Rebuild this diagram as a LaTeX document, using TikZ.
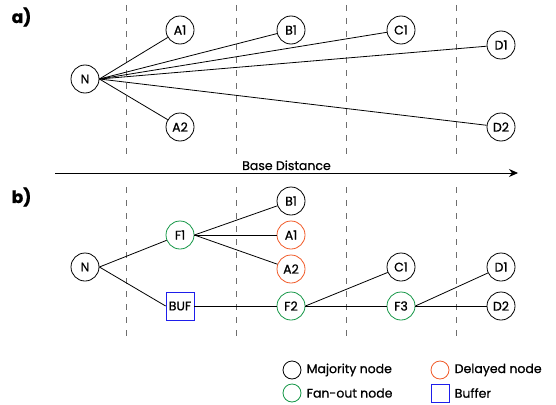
\documentclass[tikz,border=0pt]{standalone}
\usepackage{fontspec}
\setmainfont{Poppins}[FakeBold=0.8]
\usetikzlibrary{arrows.meta}

\definecolor{fanout}{RGB}{20,150,70}
\definecolor{delayed}{RGB}{240,90,40}
\definecolor{bufblue}{RGB}{30,30,235}
\definecolor{gridgray}{RGB}{110,110,110}

\begin{document}
\begin{tikzpicture}
[x=1pt,y=-1pt,line width=0.8pt,%
  every node/.style={font=\fontsize{12.5}{14}\selectfont},%
  maj/.style={shape=circle,draw,minimum size=28pt,inner sep=0pt},%
  fan/.style={maj,draw=fanout},%
  del/.style={maj,draw=delayed},%
  buf/.style={shape=rectangle,draw=bufblue,minimum size=28pt,inner sep=0pt},%
  key/.style={minimum size=18pt},%
  part/.style={font=\fontsize{17}{19}\selectfont\bfseries,anchor=west},%
  grid/.style={gridgray,dash pattern=on 6pt off 7pt}]
\useasboundingbox (0,0) rectangle (556,404);

% distance grid
\foreach \x in {126,236,346,456} {
  \draw[grid] (\x,5) -- (\x,155);
  \draw[grid] (\x,187) -- (\x,337);
}

% a) direct connections
\node[part] (lbl-a) at (8,17) {a)};
\node[maj] (a-N) at (85,79) {N};
\node[maj] (a-A1) at (180,30) {A1};
\node[maj] (a-A2) at (180,127) {A2};
\node[maj] (a-B1) at (291,30) {B1};
\node[maj] (a-C1) at (401,30) {C1};
\node[maj] (a-D1) at (501,45) {D1};
\node[maj] (a-D2) at (501,127) {D2};
\draw (a-N.east) -- (a-A1);
\draw (a-N.east) -- (a-A2);
\draw (a-N.east) -- (a-B1);
\draw (a-N.east) -- (a-C1);
\draw (a-N.east) -- (a-D1);
\draw (a-N.east) -- (a-D2);

\coordinate (axis-l) at (55,173);
\coordinate (axis-r) at (518,173);
\draw[-{Stealth[length=9pt,width=8pt]}] (axis-l) -- (axis-r)
  node[midway,above,inner sep=2.5pt] (axis-lbl) {Base Distance};

% b) with fan-out and buffers
\node[part] (lbl-b) at (8,197) {b)};
\node[maj] (b-N) at (85,267) {N};
\node[fan] (b-F1) at (180,235) {F1};
\node[buf] (b-BUF) at (180,306) {BUF};
\node[maj] (b-B1) at (291,201) {B1};
\node[del] (b-A1) at (291,235) {A1};
\node[del] (b-A2) at (291,269) {A2};
\node[fan] (b-F2) at (291,306) {F2};
\node[maj] (b-C1) at (401,267) {C1};
\node[fan] (b-F3) at (401,306) {F3};
\node[maj] (b-D1) at (501,267) {D1};
\node[maj] (b-D2) at (501,306) {D2};
\draw (b-N.east) -- (b-F1);
\draw (b-N.east) -- (b-BUF.west);
\draw (b-F1.east) -- (b-B1);
\draw (b-F1.east) -- (b-A1);
\draw (b-F1.east) -- (b-A2);
\draw (b-BUF.east) -- (b-F2);
\draw (b-F2.east) -- (b-C1);
\draw (b-F2.east) -- (b-F3);
\draw (b-F3.east) -- (b-D1);
\draw (b-F3.east) -- (b-D2);

% legend
\node[maj,key] (key-maj) at (292,370) {};
\node[anchor=west] (key-maj-txt) at (303,370) {Majority node};
\node[del,key] (key-del) at (440,370) {};
\node[anchor=west] (key-del-txt) at (451,370) {Delayed node};
\node[fan,key] (key-fan) at (292,393) {};
\node[anchor=west] (key-fan-txt) at (303,393) {Fan-out node};
\node[buf,key] (key-buf) at (440,393) {};
\node[anchor=west] (key-buf-txt) at (451,393) {Buffer};
\end{tikzpicture}
\end{document}
